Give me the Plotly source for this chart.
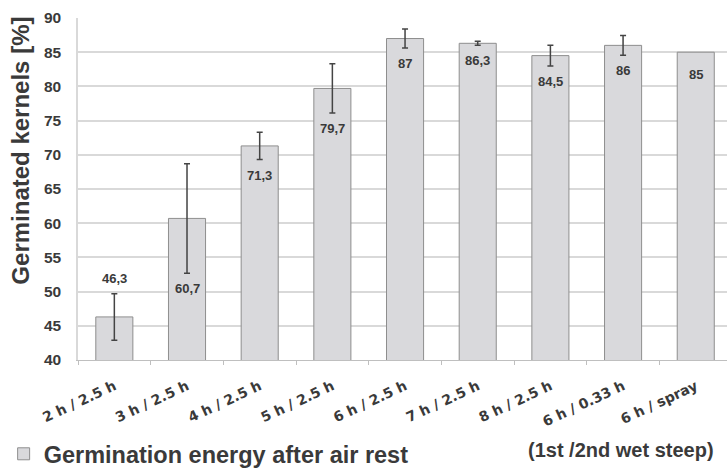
import plotly.graph_objects as go

categories = ["2 h / 2.5 h", "3 h / 2.5 h", "4 h / 2.5 h", "5 h / 2.5 h", "6 h / 2.5 h",
              "7 h / 2.5 h", "8 h / 2.5 h", "6 h / 0.33 h", "6 h / spray"]
values = [46.3, 60.7, 71.3, 79.7, 87.0, 86.3, 84.5, 86.0, 85.0]
errors = [3.4, 8.0, 2.0, 3.6, 1.4, 0.3, 1.5, 1.45, None]
value_labels = ["46,3", "60,7", "71,3", "79,7", "87", "86,3", "84,5", "86", "85"]

FONT = "Liberation Sans, Arial, sans-serif"
DARK = "#3a3a3a"

fig = go.Figure()
fig.add_trace(go.Bar(
    x=categories, y=values,
    name="<b>Germination energy after air rest</b>",
    marker=dict(color="#d9d9dc", line=dict(color="#8e8e8e", width=1)),
    width=0.51,
))

# error bars only where an error value exists
err_idx = [i for i, e in enumerate(errors) if e is not None]
fig.add_trace(go.Scatter(
    x=[categories[i] for i in err_idx], y=[values[i] for i in err_idx],
    mode="markers", marker=dict(size=1, opacity=0), showlegend=False, hoverinfo="skip",
    error_y=dict(type="data", array=[errors[i] for i in err_idx], visible=True,
                 color="#444444", thickness=1.5, width=3),
))

# value labels
for i, (c, v, e, t) in enumerate(zip(categories, values, errors, value_labels)):
    if i == 0:
        fig.add_annotation(x=c, y=v + e, text=f"<b>{t}</b>", showarrow=False,
                           yanchor="bottom", yshift=6,
                           font=dict(family=FONT, size=13, color=DARK))
    else:
        low = v - (e or 0)
        fig.add_annotation(x=c, y=low, text=f"<b>{t}</b>", showarrow=False,
                           yanchor="top", yshift=-6 if e else -13,
                           font=dict(family=FONT, size=13, color=DARK))

fig.add_annotation(xref="paper", yref="paper", x=-0.09, y=0.611,
                   text="<b>Germinated kernels [%]</b>", textangle=-90,
                   showarrow=False, xanchor="center", yanchor="middle",
                   font=dict(family=FONT, size=24, color=DARK))
fig.add_annotation(xref="paper", yref="paper", x=0.837, y=-0.263,
                   text="<b>(1st /2nd wet steep)</b>", showarrow=False,
                   xanchor="center", yanchor="middle",
                   font=dict(family=FONT, size=20, color=DARK))

fig.update_layout(
    width=727, height=470,
    margin=dict(l=78, r=0, t=18, b=110),
    plot_bgcolor="white", paper_bgcolor="white",
    font=dict(family=FONT, color=DARK),
    showlegend=True,
    legend=dict(orientation="h", xref="container", yref="container",
                x=0.005, y=0.034, xanchor="left", yanchor="middle",
                font=dict(family=FONT, size=23.5, color=DARK),
                itemwidth=30, bgcolor="rgba(0,0,0,0)"),
    bargap=0.49,
)
fig.update_xaxes(
    range=[-0.5, 8.43], automargin=False,
    tickangle=-25, tickson="boundaries", ticks="outside", ticklen=4,
    tickcolor="#bfbfbf", tickwidth=1,
    showline=True, linecolor="#bfbfbf", linewidth=1,
    tickfont=dict(family="DejaVu Sans", size=14, color=DARK, weight="bold"),
    ticklabelstandoff=12, showgrid=False,
)
fig.update_yaxes(
    range=[40, 90], dtick=5, automargin=False,
    showgrid=True, gridcolor="#d9d9d9", gridwidth=1.5,
    showline=True, linecolor="#d9d9d9", linewidth=1.5,
    tickfont=dict(family=FONT, size=15.5, color=DARK, weight="bold"),
    ticklabelstandoff=12, zeroline=False,
)

fig.write_html("out.html")
